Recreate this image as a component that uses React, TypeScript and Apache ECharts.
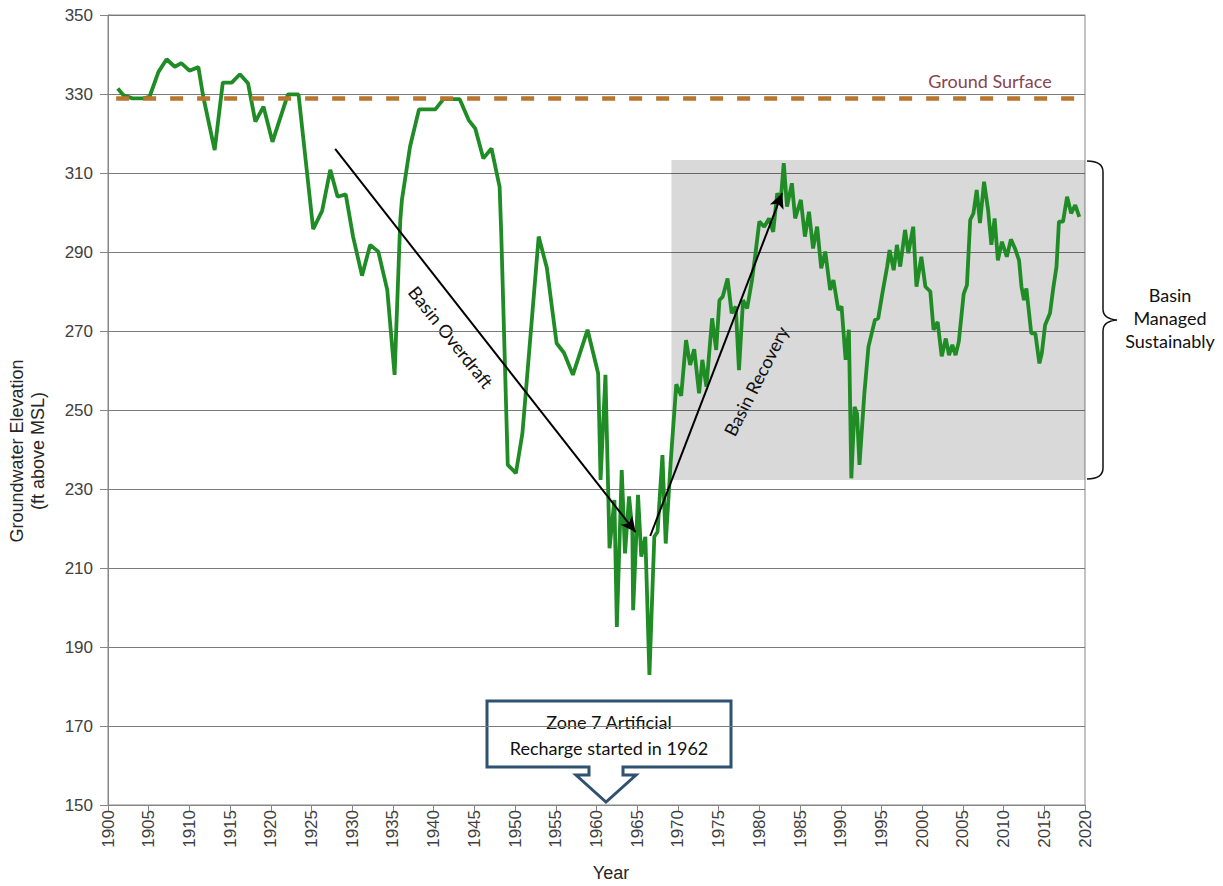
import React, { useEffect, useRef } from "react";
import * as echarts from "echarts";

// Groundwater elevation record (year, ft above MSL)
const years = [
  1901.2, 1901.9, 1903.0, 1904.3, 1905.1, 1906.2, 1907.2, 1908.2, 1909.0, 1910.0,
  1911.1, 1911.7, 1913.1, 1914.1, 1915.2, 1916.2, 1917.2, 1918.1, 1919.1, 1920.2,
  1922.1, 1923.4, 1925.2, 1926.3, 1927.3, 1928.2, 1929.2, 1930.1, 1931.2, 1932.2,
  1933.2, 1934.3, 1935.2, 1935.9, 1936.1, 1937.1, 1938.2, 1940.2, 1941.2, 1943.2,
  1944.3, 1945.1, 1946.1, 1947.1, 1948.1, 1948.3, 1949.1, 1950.1, 1950.9, 1952.9,
  1953.9, 1955.1, 1956.0, 1957.1, 1958.9, 1960.2, 1960.5, 1961.1, 1961.6, 1962.2,
  1962.5, 1963.1, 1963.5, 1964.0, 1964.4, 1964.5, 1965.1, 1965.5, 1966.0, 1966.5,
  1967.1, 1967.5, 1968.1, 1968.5, 1969.1, 1969.8, 1970.4, 1971.0, 1971.5, 1972.0,
  1972.6, 1973.0, 1973.5, 1974.2, 1974.7, 1975.1, 1975.5, 1976.1, 1976.6, 1977.1,
  1977.5, 1978.0, 1978.5, 1979.1, 1979.5, 1980.0, 1980.6, 1981.2, 1981.7, 1982.2,
  1982.6, 1983.0, 1983.4, 1984.0, 1984.4, 1985.1, 1985.6, 1986.1, 1986.6, 1987.1,
  1987.6, 1988.1, 1988.7, 1989.1, 1989.7, 1990.1, 1990.6, 1991.0, 1991.3, 1991.7,
  1992.0, 1992.3, 1992.9, 1993.4, 1993.8, 1994.2, 1994.6, 1995.1, 1995.7, 1996.0,
  1996.5, 1996.9, 1997.3, 1997.9, 1998.3, 1998.9, 1999.3, 1999.9, 2000.4, 2001.0,
  2001.4, 2001.9, 2002.4, 2002.9, 2003.3, 2003.7, 2004.1, 2004.5, 2005.1, 2005.5,
  2005.9, 2006.3, 2006.7, 2007.1, 2007.6, 2008.1, 2008.5, 2008.9, 2009.3, 2009.8,
  2010.4, 2010.9, 2011.4, 2011.9, 2012.2, 2012.5, 2012.8, 2013.4, 2013.9, 2014.4,
  2014.7, 2015.1, 2015.7, 2016.1, 2016.5, 2016.8, 2017.3, 2017.8, 2018.3, 2018.8,
  2019.3,
];
const levels = [
  331.4, 329.7, 328.9, 328.9, 329.3, 335.6, 338.8, 336.9, 337.8, 335.9,
  336.8, 329.3, 315.8, 332.9, 332.9, 335.0, 332.7, 323.0, 326.8, 317.9,
  329.9, 329.9, 295.8, 300.4, 310.8, 304.0, 304.6, 293.9, 284.0, 291.8,
  290.1, 280.4, 258.9, 298.1, 303.2, 316.7, 326.1, 326.1, 328.7, 328.7,
  323.4, 321.3, 313.7, 316.2, 306.5, 294.7, 236.1, 234.0, 244.1, 293.9,
  286.0, 266.9, 264.5, 258.9, 270.3, 259.3, 232.3, 258.9, 215.0, 227.2,
  195.1, 234.8, 213.7, 228.1, 219.6, 199.3, 228.5, 212.9, 217.9, 182.9,
  217.9, 219.2, 238.6, 216.2, 236.5, 256.5, 253.6, 267.7, 261.4, 265.4,
  254.2, 262.7, 255.9, 273.2, 265.2, 277.8, 278.7, 283.3, 274.5, 276.2,
  260.1, 277.8, 275.7, 282.9, 289.2, 297.7, 296.4, 298.5, 295.1, 304.9,
  302.3, 312.5, 301.5, 307.4, 298.5, 303.2, 293.9, 300.2, 290.9, 296.4,
  285.9, 290.1, 280.4, 282.9, 275.3, 276.2, 262.7, 270.3, 232.7, 250.8,
  249.1, 236.1, 254.2, 266.0, 269.4, 272.8, 273.2, 279.4, 286.3, 290.5,
  285.4, 291.8, 286.3, 295.6, 289.7, 296.4, 281.2, 288.8, 281.2, 280.0,
  270.3, 272.3, 263.6, 268.1, 263.9, 266.5, 263.9, 267.3, 279.4, 281.6,
  298.1, 299.8, 305.7, 297.3, 307.8, 300.6, 291.8, 298.5, 287.9, 292.6,
  288.8, 293.2, 290.9, 287.9, 281.2, 277.8, 280.8, 269.4, 269.4, 261.8,
  264.4, 271.5, 274.5, 280.8, 286.3, 297.7, 297.7, 304.0, 299.8, 301.9,
  298.9,
];

const groundSurface = 329;
const groundSurfaceSpan = [1901, 2020];
const sustainableBox = { x0: 1969.2, x1: 2020, yTop: 313.3, yBottom: 232.3 };
const overdraftArrow = [[1927.9, 316.1], [1964.8, 219.1]];
const recoveryArrow = [[1966.6, 218.1], [1982.8, 304.9]];

const annotFont = "Lato, 'Open Sans', sans-serif";
const axisFont = "'Liberation Sans', Arial, sans-serif";

echarts.graphic.registerShape(
  "brace",
  echarts.graphic.extendPath(
    "M1087,161 Q1103,161 1103,172 L1103,309 Q1103,319 1117,320 Q1103,321 1103,331 L1103,468 Q1103,479 1087,479",
    {}
  )
);

export default function App() {
  const ref = useRef<HTMLDivElement>(null);
  useEffect(() => {
    if (!ref.current) return;
    const chart = echarts.init(ref.current, null, { renderer: "svg" });
    const option = {
      animation: false,
      backgroundColor: "#ffffff",
      grid: {
        left: 108,
        right: 138,
        top: 15,
        bottom: 81,
        show: true,
        borderColor: "#868686",
        borderWidth: 1,
        backgroundColor: "transparent",
      },
      xAxis: {
        type: "value",
        min: 1900,
        max: 2020,
        interval: 5,
        axisLine: { show: true, lineStyle: { color: "#868686", width: 1 } },
        axisTick: { show: true, length: 6, lineStyle: { color: "#868686" } },
        axisLabel: {
          rotate: 90,
          fontSize: 17,
          color: "#404040",
          fontFamily: axisFont,
          margin: 5,
          formatter: (v: number) => String(v),
        },
        splitLine: { show: false },
      },
      yAxis: {
        type: "value",
        min: 150,
        max: 350,
        interval: 20,
        axisLine: { show: true, lineStyle: { color: "#868686", width: 1 } },
        axisTick: { show: true, length: 8, lineStyle: { color: "#868686" } },
        axisLabel: {
          fontSize: 17,
          color: "#404040",
          fontFamily: axisFont,
          margin: 15,
          formatter: (v: number) => String(v),
        },
        splitLine: { show: true, lineStyle: { color: "#7a7a7a", width: 1 } },
      },
      series: [
        {
          type: "line",
          name: "area",
          data: [],
          z: 1,
          silent: true,
          markArea: {
            silent: true,
            itemStyle: { color: "rgba(0,0,0,0.15)" },
            data: [
              [
                { coord: [sustainableBox.x0, sustainableBox.yTop] },
                { coord: [sustainableBox.x1, sustainableBox.yBottom] },
              ],
            ],
          },
        },
        {
          type: "line",
          name: "Groundwater Elevation",
          data: years.map((y, i) => [y, levels[i]]),
          showSymbol: false,
          symbol: "none",
          z: 2,
          lineStyle: { color: "#1f8c26", width: 3.8 },
        },
        {
          type: "line",
          name: "annotations",
          data: [],
          z: 3,
          silent: true,
          markLine: {
            silent: true,
            animation: false,
            label: { show: false },
            symbol: ["none", "arrow"],
            symbolSize: [11, 15],
            lineStyle: { color: "#000000", width: 2, type: "solid" },
            data: [
              [
                { coord: overdraftArrow[0] },
                { coord: overdraftArrow[1] },
              ],
              [
                { coord: recoveryArrow[0] },
                { coord: recoveryArrow[1] },
              ],
            ],
          },
        },
        {
          type: "line",
          name: "ground",
          data: [],
          z: 3,
          silent: true,
          markLine: {
            silent: true,
            animation: false,
            label: { show: false },
            symbol: ["none", "none"],
            lineStyle: { color: "#b8762f", width: 4.5, type: [13, 14] },
            data: [
              [
                { coord: [groundSurfaceSpan[0], groundSurface] },
                { coord: [groundSurfaceSpan[1], groundSurface] },
              ],
            ],
          },
        },
      ],
      graphic: [
        {
          type: "text",
          x: 990,
          y: 81,
          style: {
            text: "Ground Surface",
            fill: "#874452",
            font: `18px ${annotFont}`,
            textAlign: "center",
            textVerticalAlign: "middle",
          },
        },
        {
          type: "text",
          x: 451,
          y: 337,
          rotation: -0.9,
          style: {
            text: "Basin Overdraft",
            fill: "#111111",
            font: `18px ${annotFont}`,
            textAlign: "center",
            textVerticalAlign: "middle",
          },
        },
        {
          type: "text",
          x: 756,
          y: 381,
          rotation: 1.1,
          style: {
            text: "Basin Recovery",
            fill: "#111111",
            font: `18px ${annotFont}`,
            textAlign: "center",
            textVerticalAlign: "middle",
          },
        },
        {
          type: "brace",
          x: 0,
          y: 0,
          style: { stroke: "#111111", fill: "none", lineWidth: 1.5 },
        },
        {
          type: "text",
          x: 1170,
          y: 318,
          style: {
            text: "Basin\nManaged\nSustainably",
            fill: "#111111",
            font: `18px ${annotFont}`,
            lineHeight: 23,
            textAlign: "center",
            textVerticalAlign: "middle",
          },
        },
        {
          type: "polygon",
          shape: {
            points: [
              [487, 701],
              [731, 701],
              [731, 767],
              [623, 767],
              [623, 775],
              [636, 775],
              [606, 802],
              [576, 775],
              [589, 775],
              [589, 767],
              [487, 767],
            ],
          },
          style: { fill: "#ffffff", stroke: "#2f5270", lineWidth: 3 },
        },
        {
          type: "text",
          x: 609,
          y: 735,
          style: {
            text: "Zone 7 Artificial\nRecharge started in 1962",
            fill: "#111111",
            font: `18px ${annotFont}`,
            lineHeight: 26,
            textAlign: "center",
            textVerticalAlign: "middle",
          },
        },
        {
          type: "text",
          x: 27,
          y: 451,
          rotation: Math.PI / 2,
          style: {
            text: "Groundwater Elevation\n(ft above MSL)",
            fill: "#262626",
            font: `18px ${axisFont}`,
            lineHeight: 21,
            textAlign: "center",
            textVerticalAlign: "middle",
          },
        },
        {
          type: "text",
          x: 611,
          y: 873,
          style: {
            text: "Year",
            fill: "#262626",
            font: `18px ${axisFont}`,
            textAlign: "center",
            textVerticalAlign: "middle",
          },
        },
      ],
    };
    chart.setOption(option as any);
    return () => chart.dispose();
  }, []);
  return (
    <div
      ref={ref}
      style={{ position: "fixed", left: 0, top: 0, width: 1223, height: 886, background: "#fff" }}
    />
  );
}
